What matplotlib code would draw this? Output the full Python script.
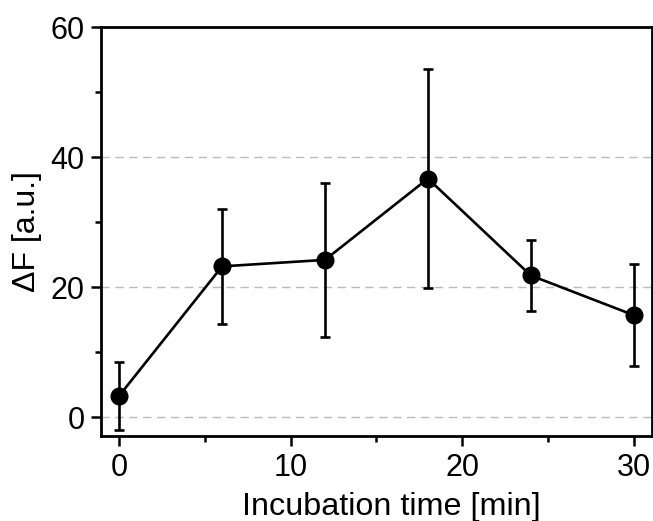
import matplotlib
matplotlib.use("Agg")
import matplotlib.pyplot as plt
from matplotlib.ticker import MultipleLocator

plt.rcParams['font.family'] = ['Liberation Sans', 'DejaVu Sans']

time_min = [0, 6, 12, 18, 24, 30]
delta_f = [3.3, 23.2, 24.2, 36.7, 21.8, 15.7]
delta_f_err = [5.2, 8.8, 11.8, 16.8, 5.4, 7.8]

fig = plt.figure(figsize=(6.53, 5.21), dpi=100)
ax = fig.add_axes([0.155, 0.163, 0.843, 0.785])

for yv in [0, 20, 40]:
    ax.axhline(yv, color='#bbbbbb', lw=1.0, ls=(0, (6, 4)), zorder=0)

ax.errorbar(time_min, delta_f, yerr=delta_f_err, color='black', lw=1.9,
            marker='o', markersize=12, ecolor='black', elinewidth=1.9,
            capsize=3.5, capthick=1.9)

ax.set_xlim(-1.05, 31.05)
ax.set_ylim(-2.9, 60)
ax.xaxis.set_major_locator(MultipleLocator(10))
ax.xaxis.set_minor_locator(MultipleLocator(5))
ax.yaxis.set_major_locator(MultipleLocator(20))
ax.yaxis.set_minor_locator(MultipleLocator(10))
ax.tick_params(which='major', direction='out', length=7, width=1.8, labelsize=22, pad=5)
ax.tick_params(which='minor', direction='out', length=4, width=1.8)
ax.tick_params(top=False, right=False, which='both')
for s in ax.spines.values():
    s.set_linewidth(2.0)

ax.set_xlabel('Incubation time [min]', fontsize=23.3)
ax.xaxis.set_label_coords(0.527, -0.137, transform=ax.transAxes)
ax.xaxis.label.set_va('top')
ax.set_ylabel('ΔF [a.u.]', fontsize=23, labelpad=6)

plt.savefig("out.png", dpi=100)
plt.close()
